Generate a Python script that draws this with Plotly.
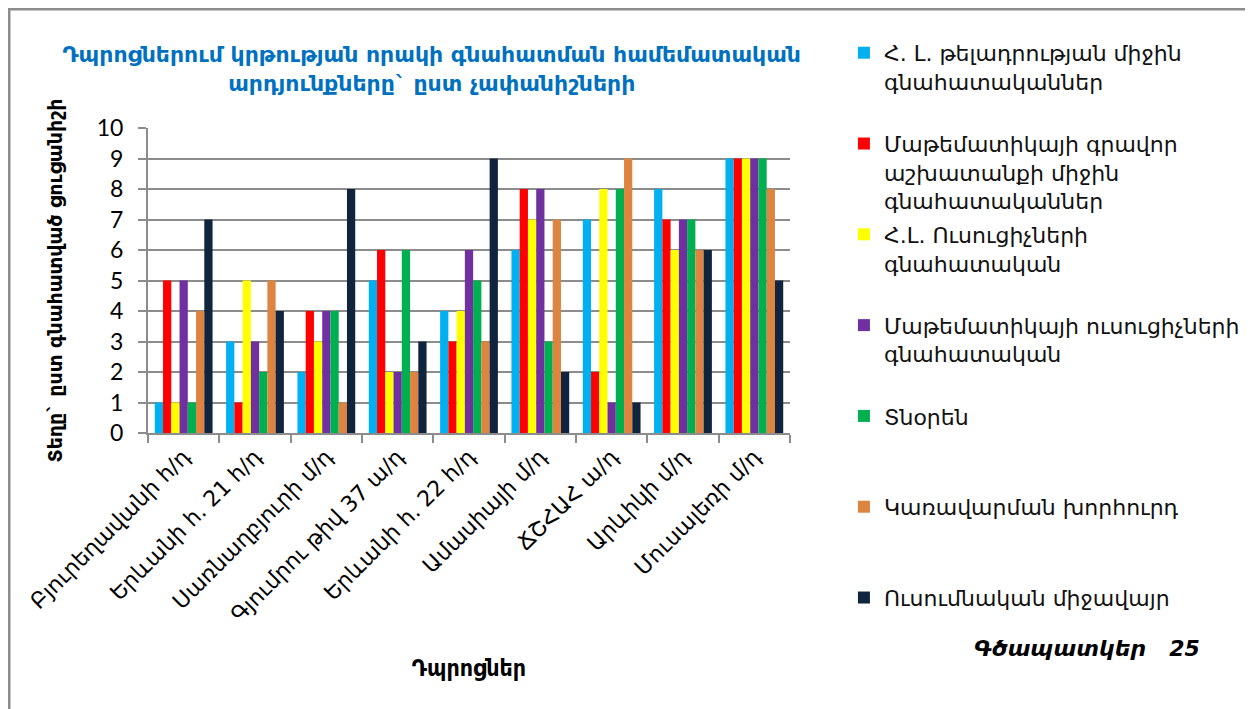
import plotly.graph_objects as go

categories = ["Բյուրեղավանի հ/դ", "Երևանի հ. 21 հ/դ", "Սառնաղբյուրի մ/դ",
              "Գյումրու թիվ 37 ա/դ", "Երևանի հ. 22 հ/դ", "Ամասիայի մ/դ",
              "ՃՇՀԱՀ ա/դ", "Արևիկի մ/դ", "Մուսալեռի մ/դ"]

series_names = [
    "Հ. Լ. թելադրության միջին<br>գնահատականներ",
    "Մաթեմատիկայի գրավոր<br>աշխատանքի միջին<br>գնահատականներ",
    "Հ.Լ. Ուսուցիչների<br>գնահատական",
    "Մաթեմատիկայի ուսուցիչների<br>գնահատական",
    "Տնօրեն",
    "Կառավարման խորհուրդ",
    "Ուսումնական միջավայր",
]

hl_dictation = [1, 3, 2, 5, 4, 6, 7, 8, 9]
math_written = [5, 1, 4, 6, 3, 8, 2, 7, 9]
hl_teachers = [1, 5, 3, 2, 4, 7, 8, 6, 9]
math_teachers = [5, 3, 4, 2, 6, 8, 1, 7, 9]
director = [1, 2, 4, 6, 5, 3, 8, 7, 9]
board = [4, 5, 1, 2, 3, 7, 9, 6, 8]
environment = [7, 4, 8, 3, 9, 2, 1, 6, 5]

y_ticks = list(range(0, 11))

series_values = [hl_dictation, math_written, hl_teachers, math_teachers,
                 director, board, environment]
colors = ["#00B0F0", "#FF0000", "#FFFF00", "#7030A0", "#00B050", "#DD8440", "#10243E"]

ARM = "DejaVu Sans, Noto Sans, sans-serif"
ARMC = "DejaVu Sans Condensed, DejaVu Sans, sans-serif"

# The page body adds an 8px margin; the figure is sized so it fits the window.
W, H = 1245, 701

fig = go.Figure()
for i, (name, vals, col) in enumerate(zip(series_names, series_values, colors)):
    nlines = name.count("<br>") + 1
    padded = name + "<br>\u00a0" * (3 - nlines)
    fig.add_trace(go.Bar(
        x=categories, y=vals, name=padded, marker_color=col,
        marker_line_width=0, legendgroup=f"g{i}",
    ))

fig.update_layout(
    width=W, height=H,
    margin=dict(l=140, r=463, t=120, b=276, autoexpand=False),
    paper_bgcolor="white", plot_bgcolor="white",
    barmode="group", bargap=0.19, bargroupgap=0,
    title=dict(
        text="Դպրոցներում կրթության որակի գնահատման համեմատական<br>արդյունքները` ըստ չափանիշների",
        x=0.442, xref="paper", xanchor="center",
        y=1 - 54 / H, yref="container", yanchor="middle",
        font=dict(family=ARM, size=22, color="#0070C0", weight="bold"),
    ),
    legend=dict(
        x=1.084, xanchor="left", y=1.315, yanchor="top",
        font=dict(family=ARM, size=22, color="#111111"),
        valign="top", tracegroupgap=2, bgcolor="rgba(0,0,0,0)",
        maxheight=695,
    ),
    font=dict(family=ARM, color="black"),
    showlegend=True,
)

fig.update_yaxes(
    range=[0, 10], tickvals=y_ticks, ticktext=[str(v) for v in y_ticks],
    showgrid=True, gridcolor="#8c8c8c", gridwidth=2,
    showline=True, linecolor="#8c8c8c", linewidth=2,
    ticks="outside", ticklen=8, tickcolor="#8c8c8c", tickwidth=2,
    tickfont=dict(family="Lato, Carlito, sans-serif", size=23, color="black"),
    ticklabelstandoff=10,
    zeroline=False,
    title=dict(text="Տեղը` ըստ գնահատված ցուցանիշի",
               font=dict(family=ARM, size=19, color="black", weight="bold"),
               standoff=29),
    automargin=False,
)
fig.update_xaxes(
    showline=True, linecolor="#8c8c8c", linewidth=2,
    ticks="outside", ticklen=8, tickcolor="#8c8c8c", tickwidth=2,
    tickson="boundaries", tickangle=-45,
    tickfont=dict(family=ARM, size=22, color="black"),
    title=dict(text="Դպրոցներ",
               font=dict(family=ARMC, size=23, color="black", weight="bold"),
               standoff=34),
    automargin=False,
)

fig.add_annotation(
    text="<b><i>Գծապատկեր   25</i></b>", x=(1087 - 148) / 642, xref="paper",
    y=(433 - 648) / 305, yref="paper", showarrow=False,
    xanchor="center", yanchor="middle",
    font=dict(family=ARM, size=22, color="black"),
)

fig.add_shape(
    type="rect", xref="paper", yref="paper",
    x0=(149 - 148) / 642 - 140 / 642, x1=(1300 - 148) / 642,
    y0=(433 - 760) / 305, y1=(433 - 9) / 305,
    line=dict(color="#8c8c8c", width=3), fillcolor="rgba(0,0,0,0)", layer="below",
)

fig.write_html("out.html")
